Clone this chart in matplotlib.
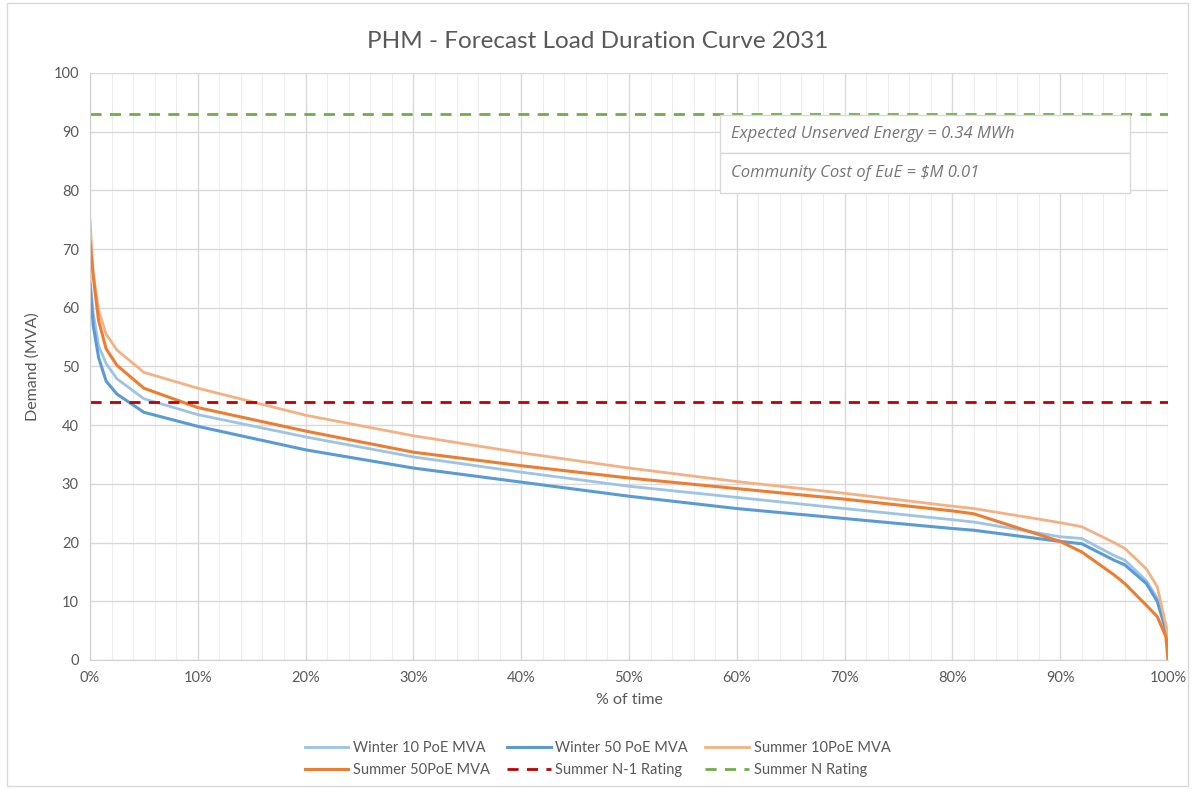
import matplotlib
matplotlib.use("Agg")
import matplotlib.pyplot as plt
from matplotlib.ticker import MultipleLocator, PercentFormatter
from matplotlib.patches import Rectangle

# ---- data ----
pct_time = [0, 0.3, 0.8, 1.5, 2.5, 5, 10, 20, 30, 40, 50, 60, 70, 80, 82,
            90, 92, 95, 96, 98, 99, 99.8, 100]
winter_10 = [65.0, 59.1, 53.5, 50.5, 47.9, 44.5, 41.8, 38.0, 34.6, 32.0, 29.6,
             27.7, 25.8, 23.9, 23.5, 21.0, 20.7, 17.8, 17.0, 13.5, 10.5, 6.0, 4.0]
winter_50 = [64.0, 57.0, 51.5, 47.5, 45.3, 42.2, 39.8, 35.8, 32.7, 30.3, 27.9,
             25.8, 24.1, 22.4, 22.1, 20.2, 19.8, 17.0, 16.2, 13.0, 10.0, 5.0, 2.5]
summer_10 = [75.0, 66.0, 59.5, 55.5, 52.8, 49.0, 46.3, 41.7, 38.2, 35.3, 32.7,
             30.4, 28.4, 26.2, 25.8, 23.4, 22.7, 20.0, 19.0, 15.5, 12.5, 6.0, 4.0]
summer_50 = [71.3, 65.3, 57.8, 53.0, 50.2, 46.3, 43.0, 39.0, 35.4, 33.1, 31.0,
             29.2, 27.4, 25.4, 24.9, 20.2, 18.4, 14.5, 13.0, 9.3, 7.4, 4.0, 0.0]
n1_rating = 44
n_rating = 93
series_names = ["Winter 10 PoE MVA", "Winter 50 PoE MVA", "Summer 10PoE MVA",
                "Summer 50PoE MVA", "Summer N-1 Rating", "Summer N Rating"]
title = "PHM - Forecast Load Duration Curve 2031"
eue_text = "Expected Unserved Energy = 0.34 MWh"
cost_text = "Community Cost of EuE = $M 0.01"

plt.rcParams['font.family'] = ['Lato', 'DejaVu Sans']

fig = plt.figure(figsize=(11.95, 7.89), dpi=100)
ax = fig.add_axes([0.0753, 0.1635, 0.9021, 0.744])

h_w10, = ax.plot(pct_time, winter_10, color="#9DC3E6", lw=2.0, label=series_names[0])
h_w50, = ax.plot(pct_time, winter_50, color="#5B9BD5", lw=2.2, label=series_names[1])
h_s10, = ax.plot(pct_time, summer_10, color="#F4B183", lw=2.0, label=series_names[2])
h_s50, = ax.plot(pct_time, summer_50, color="#ED7D31", lw=2.2, label=series_names[3])
h_n1 = ax.axhline(n1_rating, color="#C00000", lw=2.0, ls=(0, (4, 3)), label=series_names[4])
h_n = ax.axhline(n_rating, color="#70AD47", lw=2.0, ls=(0, (4, 3)), label=series_names[5])

ax.set_xlim(0, 100)
ax.set_ylim(0, 100)
ax.xaxis.set_major_locator(MultipleLocator(10))
ax.xaxis.set_minor_locator(MultipleLocator(2))
ax.yaxis.set_major_locator(MultipleLocator(10))
ax.xaxis.set_major_formatter(PercentFormatter(decimals=0))
ax.grid(which="major", color="#D9D9D9", lw=1.0)
ax.grid(which="minor", axis="x", color="#EDEDED", lw=0.8)
ax.set_axisbelow(True)
for s in ["top", "right"]:
    ax.spines[s].set_visible(False)
for s in ["left", "bottom"]:
    ax.spines[s].set_color("#D0D0D0")
ax.tick_params(which="both", length=0, colors="#595959", labelsize=10.5, pad=8)

ax.set_xlabel("% of time", fontsize=11.5, color="#595959", labelpad=6)
ax.set_ylabel("Demand (MVA)", fontsize=11.5, color="#595959", labelpad=10)
fig.text(0.5, 0.947, title, ha="center", va="center", fontsize=17.5, color="#595959")

# annotation boxes
box_x0, box_w = 58.4, 38.1
for (y_bot, y_top, txt) in [(86.4, 92.8, eue_text), (79.6, 86.4, cost_text)]:
    ax.add_patch(Rectangle((box_x0, y_bot), box_w, y_top - y_bot,
                           facecolor="white", edgecolor="#D9D9D9", lw=1.0, zorder=5))
    ax.text(box_x0 + 1.1, (y_bot + y_top) / 2, txt, fontsize=12, style="italic",
            color="#767676", va="center", zorder=6, family=['Open Sans', 'DejaVu Sans'])

handles = [h_w10, h_s50, h_w50, h_n1, h_s10, h_n]
leg = fig.legend(handles=handles, labels=[h.get_label() for h in handles],
                 loc="center", bbox_to_anchor=(0.5, 0.038), ncol=3, frameon=False,
                 fontsize=10.5, handlelength=3.0, handletextpad=0.3, columnspacing=1.2,
                 labelspacing=0.6)
for t in leg.get_texts():
    t.set_color("#595959")

fig.add_artist(Rectangle((0.006, 0.004), 0.988, 0.992, transform=fig.transFigure,
                         fill=False, edgecolor="#D9D9D9", lw=1.0))

fig.savefig("out.png", dpi=100)
